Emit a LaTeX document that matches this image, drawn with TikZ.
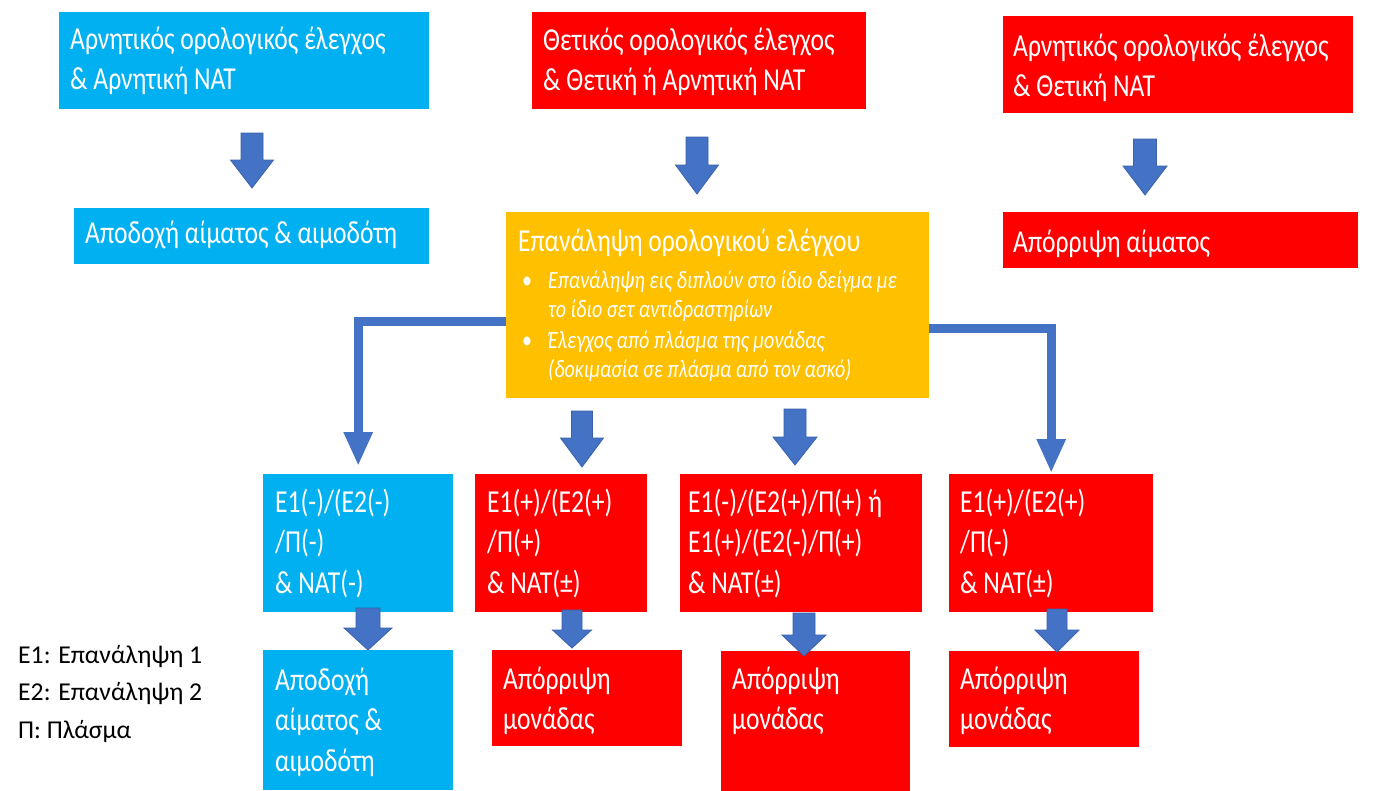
\documentclass[tikz,border=0pt]{standalone}
\usepackage{fontspec}
\setmainfont{Carlito}[FakeStretch=0.8]
\newfontfamily\legendfont{Carlito}
\usetikzlibrary{arrows.meta}

\definecolor{skyfill}{HTML}{00B0F0}
\definecolor{redfill}{HTML}{FF0000}
\definecolor{amberfill}{HTML}{FFC000}
\definecolor{arrowblue}{HTML}{4472C4}
\definecolor{arrowedge}{HTML}{3A62AC}

% text nodes are placed by the baseline of their last line
\tikzset{
  panel/.style={rectangle, inner sep=0pt, anchor=north west, draw=none},
  sky/.style={panel, fill=skyfill},
  alarm/.style={panel, fill=redfill},
  amber/.style={panel, fill=amberfill},
  txt/.style={anchor=base west, inner sep=0pt, align=left, text=white,
    font=\fontsize{32}{40.5}\selectfont},
  blockarrow/.style={fill=arrowblue, draw=arrowedge, line width=0.8pt, line join=miter},
  elbow/.style={draw=arrowblue, line width=9pt,
    -{Triangle[width=27pt,length=34pt]}},
}

% block arrow pointing down: centre x, top, start of head, tip, half shaft, half head
\newcommand{\blockdown}[6]{%
  \path[blockarrow] ({#1-#5},#2) -- ({#1+#5},#2) -- ({#1+#5},#3) -- ({#1+#6},#3)
    -- (#1,#4) -- ({#1-#6},#3) -- ({#1-#5},#3) -- cycle;}

\begin{document}
\begin{tikzpicture}[x=1pt, y=-1pt]
\useasboundingbox (0,0) rectangle (1380,790);
\fill[white] (0,0) rectangle (1380,790);

% ---- top row
\node[sky, minimum width=370pt, minimum height=97pt] (neg) at (59,12) {};
\node[txt] (negtxt) at (70,89.5) {Αρνητικός ορολογικός έλεγχος\\\& Αρνητική NAT};

\node[alarm, minimum width=334pt, minimum height=97pt] (pos) at (532,12) {};
\node[txt] (postxt) at (543,90.5) {Θετικός ορολογικός έλεγχος\\\& Θετική ή Αρνητική NAT};

\node[alarm, minimum width=350pt, minimum height=97pt] (nat) at (1003,16) {};
\node[txt] (nattxt) at (1013,96.5) {Αρνητικός ορολογικός έλεγχος\\\& Θετική NAT};

% ---- second row
\node[sky, minimum width=355pt, minimum height=56pt] (accept) at (74,208) {};
\node[txt] (accepttxt) at (85,243) {Αποδοχή αίματος \& αιμοδότη};

\node[amber, minimum width=423pt, minimum height=186pt] (rep) at (506,212) {};
\node[txt, font=\fontsize{32}{38}\selectfont] (reptitle) at (518,251) {Επανάληψη ορολογικού ελέγχου};
\node[txt, font=\fontsize{25}{29.5}\selectfont] (dot1) at (522,288) {•};
\node[txt, font=\itshape\fontsize{25}{29.5}\selectfont] (item1) at (548,317.5)
  {Επανάληψη εις διπλούν στο ίδιο δείγμα με\\το ίδιο σετ αντιδραστηρίων};
\node[txt, font=\fontsize{25}{29.5}\selectfont] (dot2) at (522,348) {•};
\node[txt, font=\itshape\fontsize{25}{29.5}\selectfont] (item2) at (548,377.5)
  {Έλεγχος από πλάσμα της μονάδας\\(δοκιμασία σε πλάσμα από τον ασκό)};

\node[alarm, minimum width=355pt, minimum height=56pt] (reject) at (1003,212) {};
\node[txt] (rejecttxt) at (1013,252) {Απόρριψη αίματος};

% ---- third row
\node[sky, minimum width=190pt, minimum height=138pt] (res1) at (263,474) {};
\node[txt] (res1txt) at (275,593) {E1(-)/(E2(-)\\/Π(-)\\\& NAT(-)};

\node[alarm, minimum width=172pt, minimum height=138pt] (res2) at (475,474) {};
\node[txt] (res2txt) at (487,593) {E1(+)/(E2(+)\\/Π(+)\\\& NAT(±)};

\node[alarm, minimum width=242pt, minimum height=138pt] (res3) at (680,474) {};
\node[txt] (res3txt) at (688,593) {E1(-)/(E2(+)/Π(+) ή\\E1(+)/(E2(-)/Π(+)\\\& NAT(±)};

\node[alarm, minimum width=204pt, minimum height=138pt] (res4) at (949,474) {};
\node[txt] (res4txt) at (960,593) {E1(+)/(E2(+)\\/Π(-)\\\& NAT(±)};

% ---- bottom row
\node[sky, minimum width=190pt, minimum height=140pt] (out1) at (263,650) {};
\node[txt] (out1txt) at (275,771) {Αποδοχή\\αίματος \&\\αιμοδότη};

\node[alarm, minimum width=190pt, minimum height=96pt] (out2) at (492,650) {};
\node[txt] (out2txt) at (503,729.5) {Απόρριψη\\μονάδας};

\node[alarm, minimum width=189pt, minimum height=140pt] (out3) at (721,651) {};
\node[txt] (out3txt) at (732,729.5) {Απόρριψη\\μονάδας};

\node[alarm, minimum width=190pt, minimum height=96pt] (out4) at (949,651) {};
\node[txt] (out4txt) at (960,729.5) {Απόρριψη\\μονάδας};

% ---- legend
\node[txt, text=black, font=\legendfont\fontsize{25.7}{37.5}\selectfont] (legend) at (18,738)
  {E1: Επανάληψη 1\\E2: Επανάληψη 2\\Π: Πλάσμα};

% ---- block arrows
\blockdown{252}{133}{160}{188}{11}{21.5}
\blockdown{697}{137}{165}{194}{11}{21.5}
\blockdown{1145}{139}{166}{195}{11.5}{22}
\blockdown{582}{411}{438}{467}{10.5}{21.5}
\blockdown{795}{409}{437}{465}{11}{22}
\blockdown{368}{608}{628}{650}{12}{24}
\blockdown{572}{610}{630}{648}{10}{19.5}
\blockdown{804}{613}{635}{656}{11}{22}
\blockdown{1057}{609}{630}{652}{10}{22}

% ---- elbow connectors from the repeat-test box
\draw[elbow] ([yshift=-16pt]rep.west) -| ([yshift=8pt]res1.north);
\draw[elbow] ([yshift=-23pt]rep.east) -| ([yshift=1pt]res4.north);
\end{tikzpicture}
\end{document}
